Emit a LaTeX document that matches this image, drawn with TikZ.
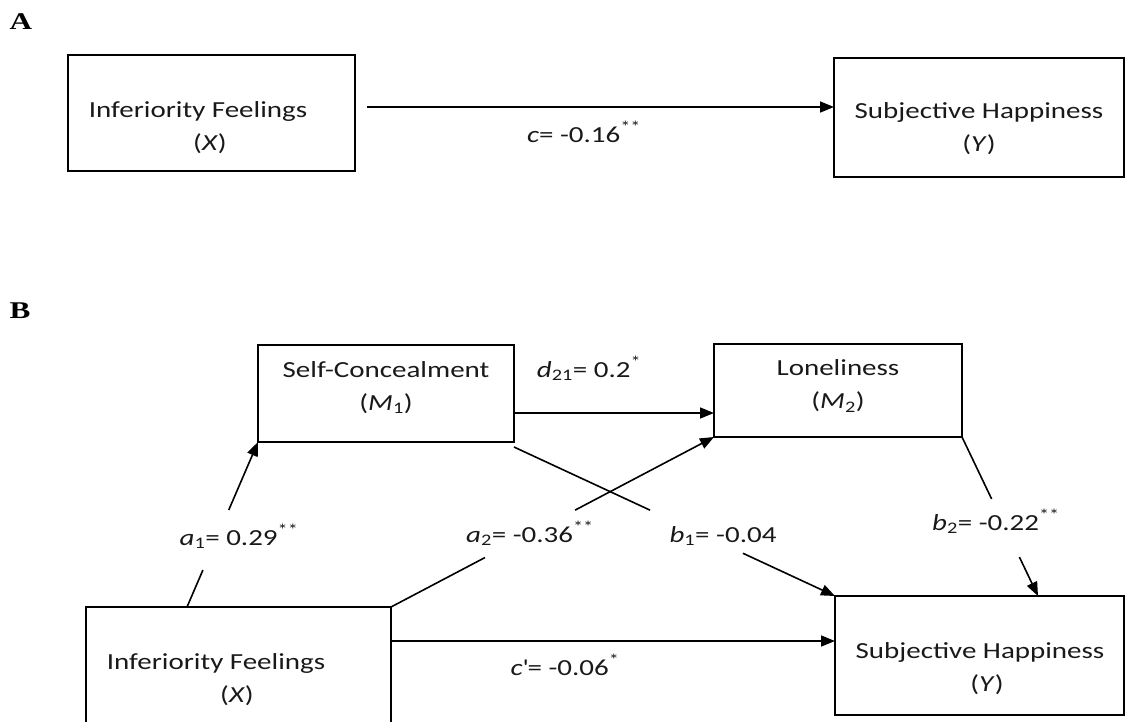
\documentclass[tikz,border=0pt]{standalone}
\usepackage{fontspec}
\setmainfont{Carlito}[FakeStretch=1.26]
\newfontfamily\panelfont{Liberation Serif}[FakeStretch=1.3]
\usetikzlibrary{arrows.meta,calc}
\begin{document}
\begin{tikzpicture}[x=1pt,y=-1pt,
  box/.style={draw, line width=1.6pt, inner sep=0pt, outer sep=0pt, anchor=north west},
  txt/.style={align=center, font=\fontsize{23}{33}\selectfont, inner sep=0pt, text=black!90},
  lab/.style={font=\fontsize{23}{28}\selectfont, inner sep=0pt, anchor=base, text=black!90},
  conn/.style={line width=1.6pt},
  arr/.style={conn, -{Triangle[length=14pt,width=11pt]}},
  panel/.style={font=\panelfont\bfseries\fontsize{24}{28}\selectfont, inner sep=0pt}
]
\useasboundingbox (0,0) rectangle (1126,721);
\clip (0,0) rectangle (1126,721);

% panel labels
\node[panel] (pA) at (21,21.5) {A};
\node[panel] (pB) at (20,310.5) {B};

% ---------- Panel A ----------
\node[box, minimum width=287pt, minimum height=116pt] (XA) at (68,55) {};
\node[box, minimum width=290pt, minimum height=119pt] (YA) at (834,58) {};
\node[txt] (XAt) at (198,127.5) {Inferiority Feelings\\\hspace*{24pt}(\textit{X})};
\node[txt] (YAt) at (979,128.5) {Subjective Happiness\\(\textit{Y})};
\draw[arr] ([xshift=12pt,yshift=6pt]XA.east) -- ([yshift=10.5pt]YA.west);
\node[lab] (lc) at (584,142) {\textit{c}= -0.16\textsuperscript{**}};

% ---------- Panel B ----------
\node[box, minimum width=256pt, minimum height=97pt] (M1) at (258,345) {};
\node[box, minimum width=248pt, minimum height=93pt] (M2) at (714,344) {};
\node[box, minimum width=305pt, minimum height=130pt] (XB) at (86,607) {};
\node[box, minimum width=289pt, minimum height=119pt] (YB) at (835,596) {};

\node[txt] (M1t) at (386,387.5) {Self-Concealment\\(\textit{M}\textsubscript{1})};
\node[txt] (M2t) at (838,386) {Loneliness\\(\textit{M}\textsubscript{2})};
\node[txt] (XBt) at (216,680) {Inferiority Feelings\\\hspace*{42pt}(\textit{X})};
\node[txt] (YBt) at (980,668.5) {Subjective Happiness\\\hspace*{14pt}(\textit{Y})};

% d21
\draw[arr] ([yshift=-19.5pt]M1.east) -- ([yshift=-22.5pt]M2.west);
\node[lab] (ld) at (589,377) {\textit{d}\textsubscript{21}= 0.2\textsuperscript{*}};

% a1
\coordinate (a1o) at ([xshift=-51.5pt]XB.north);
\coordinate (a1s) at ($(a1o)!0.224!(M1.south west)$);
\coordinate (a1e) at ($(a1o)!0.588!(M1.south west)$);
\draw[conn] (a1o) -- (a1s);
\draw[arr] (a1e) -- (M1.south west);
\node[lab] (la1) at (239,545) {\textit{a}\textsubscript{1}= 0.29\textsuperscript{**}};

% a2
\coordinate (a2s) at ($(XB.north east)!0.291!(M2.south west)$);
\coordinate (a2e) at ($(XB.north east)!0.57!(M2.south west)$);
\draw[conn] (XB.north east) -- (a2s);
\draw[arr] (a2e) -- (M2.south west);
\node[lab] (la2) at (530,542) {\textit{a}\textsubscript{2}= -0.36\textsuperscript{**}};

% b1
\coordinate (b1o) at ([yshift=-5pt]M1.south east);
\coordinate (b1s) at ($(b1o)!0.424!(YB.north west)$);
\coordinate (b1e) at ($(b1o)!0.713!(YB.north west)$);
\draw[conn] (b1o) -- (b1s);
\draw[arr] (b1e) -- (YB.north west);
\node[lab] (lb1) at (723,542) {\textit{b}\textsubscript{1}= -0.04};

% b2
\coordinate (b2t) at ([xshift=58.5pt]YB.north);
\coordinate (b2s) at ($(M2.south east)!0.39!(b2t)$);
\coordinate (b2e) at ($(M2.south east)!0.755!(b2t)$);
\draw[conn] (M2.south east) -- (b2s);
\draw[arr] (b2e) -- (b2t);
\node[lab] (lb2) at (996,530) {\textit{b}\textsubscript{2}= -0.22\textsuperscript{**}};

% c'
\draw[arr] ([yshift=31pt]XB.east) -- ([yshift=14.5pt]YB.west);
\node[lab] (lc2) at (565,675) {\textit{c}\textquotesingle= -0.06\textsuperscript{*}};
\end{tikzpicture}
\end{document}
